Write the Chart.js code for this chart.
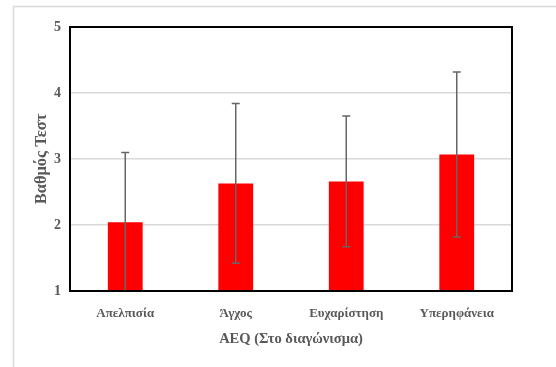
<!DOCTYPE html>
<html>
<head>
<meta charset="utf-8">
<script src="https://cdn.jsdelivr.net/npm/chart.js@4.4.1/dist/chart.umd.min.js"></script>
<style>
  html, body { margin: 0; padding: 0; background: #fff; }
  #wrap { position: relative; width: 556px; height: 367px; }
</style>
</head>
<body>
<div id="wrap"><canvas id="c" width="556" height="367"></canvas></div>
<script>
// AEQ emotions during the exam and mean test grade
const categories = ['Απελπισία', 'Άγχος', 'Ευχαρίστηση', 'Υπερηφάνεια'];
const meanScores = [2.04, 2.63, 2.66, 3.07];
const stdDev = [1.06, 1.21, 0.99, 1.25];
const yTicks = [1, 2, 3, 4, 5];

const textGray = '#595959';
const serif = "'Liberation Serif', 'DejaVu Serif', serif";

// Whiskers (mean ± SD), clipped to the plot area
const errorBars = {
  id: 'errorBars',
  afterDatasetsDraw(chart) {
    const { ctx, chartArea, scales } = chart;
    const meta = chart.getDatasetMeta(0);
    ctx.save();
    ctx.beginPath();
    ctx.rect(chartArea.left, chartArea.top - 1, chartArea.right - chartArea.left, chartArea.bottom - chartArea.top + 1);
    ctx.clip();
    ctx.strokeStyle = '#666666';
    ctx.lineWidth = 1.5;
    meta.data.forEach((bar, i) => {
      const x = bar.x;
      const hi = scales.y.getPixelForValue(meanScores[i] + stdDev[i]);
      const lo = scales.y.getPixelForValue(meanScores[i] - stdDev[i]);
      ctx.beginPath();
      ctx.moveTo(x, hi); ctx.lineTo(x, lo);
      ctx.moveTo(x - 4, hi); ctx.lineTo(x + 4, hi);
      ctx.moveTo(x - 4, lo); ctx.lineTo(x + 4, lo);
      ctx.stroke();
    });
    ctx.restore();
  }
};

// Page frame and plot-area border
const frames = {
  id: 'frames',
  beforeDraw(chart) {
    const { ctx } = chart;
    ctx.save();
    ctx.strokeStyle = '#d9d9d9';
    ctx.lineWidth = 1.5;
    ctx.strokeRect(13.5, 6.5, 600, 400);
    ctx.restore();
  },
  afterDraw(chart) {
    const { ctx, chartArea } = chart;
    ctx.save();
    ctx.strokeStyle = '#000000';
    ctx.lineWidth = 2;
    ctx.strokeRect(chartArea.left, chartArea.top, chartArea.right - chartArea.left, chartArea.bottom - chartArea.top);
    ctx.restore();
  }
};

new Chart(document.getElementById('c'), {
  type: 'bar',
  data: {
    labels: categories,
    datasets: [{
      data: meanScores,
      backgroundColor: '#ff0000',
      borderWidth: 0,
      barPercentage: 0.315,
      categoryPercentage: 1.0
    }]
  },
  options: {
    responsive: false,
    animation: false,
    devicePixelRatio: 1,
    layout: { padding: { left: 32, right: 44, top: 27, bottom: 19 } },
    plugins: { legend: { display: false }, tooltip: { enabled: false } },
    scales: {
      x: {
        grid: { display: false },
        border: { display: false },
        ticks: {
          color: textGray,
          font: { family: serif, size: 13, weight: 'bold' },
          padding: 7
        },
        title: {
          display: true,
          text: 'AEQ (Στο διαγώνισμα)',
          color: textGray,
          font: { family: serif, size: 14.5, weight: 'bold' },
          padding: { top: 2, bottom: 0 }
        },
        afterFit(scale) { scale.height = 57; }
      },
      y: {
        min: 1,
        max: 5,
        afterBuildTicks(scale) { scale.ticks = yTicks.map(v => ({ value: v })); },
        grid: { color: '#d9d9d9', lineWidth: 1.5, drawTicks: false },
        border: { display: false },
        ticks: {
          color: textGray,
          font: { family: serif, size: 14, weight: 'bold' },
          padding: 9
        },
        title: {
          display: true,
          text: 'Βαθμός Τεστ',
          color: textGray,
          font: { family: serif, size: 16.5, weight: 'bold' },
          padding: { top: 0, bottom: 0 }
        },
        afterFit(scale) { scale.width = 38; }
      }
    }
  },
  plugins: [frames, errorBars]
});
</script>
</body>
</html>
